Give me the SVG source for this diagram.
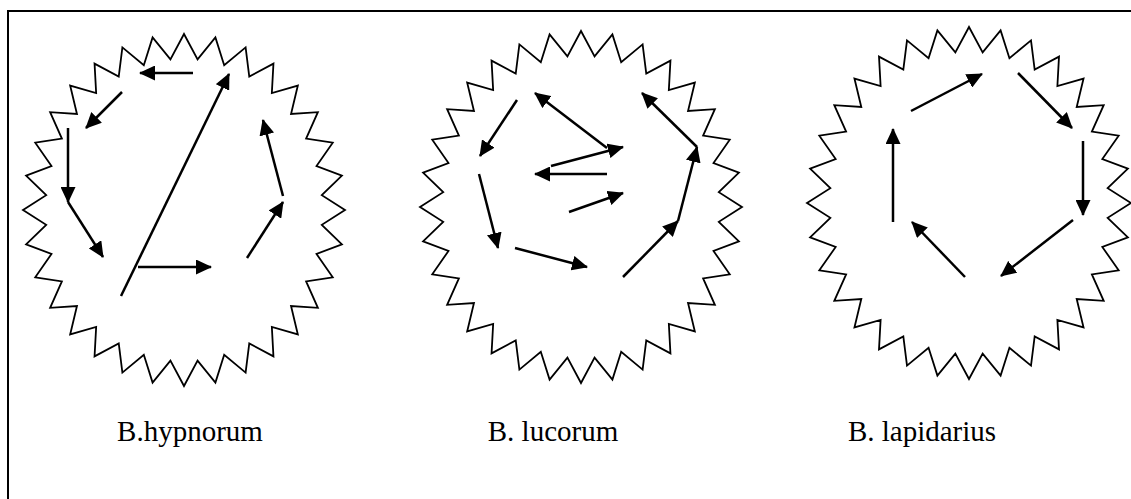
<svg xmlns="http://www.w3.org/2000/svg" xmlns:xlink="http://www.w3.org/1999/xlink" width="1131" height="499" viewBox="0 0 1131 499">
  <style>
    .frame { fill: none; stroke: #000; stroke-width: 2; }
    .star { fill: none; stroke: #000; stroke-width: 1.8; stroke-linejoin: miter; }
    .arr { fill: none; stroke: #000; stroke-width: 2.5; marker-end: url(#ah); }
    .lbl { font-family: "Liberation Serif", "Times New Roman", serif; font-size: 29px; fill: #000; text-anchor: middle; }
  </style>
  <defs>
    <marker id="ah" markerUnits="userSpaceOnUse" markerWidth="16" markerHeight="15" refX="15" refY="7.5" orient="auto" viewBox="0 0 16 15">
      <path d="M0,0 L16,7.5 L0,15 z" fill="#000"/>
    </marker>
    <polygon id="star" vector-effect="non-scaling-stroke" points="0,-100 8.43,-85.59 19.51,-98.08 24.96,-82.3 38.27,-92.39 40.54,-75.85 55.56,-83.15 54.56,-66.48 70.71,-70.71 66.48,-54.56 83.15,-55.56 75.85,-40.54 92.39,-38.27 82.3,-24.96 98.08,-19.51 85.59,-8.43 100,0 85.59,8.43 98.08,19.51 82.3,24.96 92.39,38.27 75.85,40.54 83.15,55.56 66.48,54.56 70.71,70.71 54.56,66.48 55.56,83.15 40.54,75.85 38.27,92.39 24.96,82.3 19.51,98.08 8.43,85.59 0,100 -8.43,85.59 -19.51,98.08 -24.96,82.3 -38.27,92.39 -40.54,75.85 -55.56,83.15 -54.56,66.48 -70.71,70.71 -66.48,54.56 -83.15,55.56 -75.85,40.54 -92.39,38.27 -82.3,24.96 -98.08,19.51 -85.59,8.43 -100,0 -85.59,-8.43 -98.08,-19.51 -82.3,-24.96 -92.39,-38.27 -75.85,-40.54 -83.15,-55.56 -66.48,-54.56 -70.71,-70.71 -54.56,-66.48 -55.56,-83.15 -40.54,-75.85 -38.27,-92.39 -24.96,-82.3 -19.51,-98.08 -8.43,-85.59"/>
  </defs>
  <rect x="0" y="0" width="1131" height="499" fill="#fff"/>
  <path class="frame" d="M8,520 V11 H1140"/>

  <g id="hypnorum">
    <use xlink:href="#star" class="star" transform="translate(184,210) scale(1.61,1.76)"/>
    <text class="lbl" x="190" y="441">B.hypnorum</text>
  </g>
  <g id="lucorum">
    <use xlink:href="#star" class="star" transform="translate(581,207) scale(1.61,1.76)"/>
    <text class="lbl" x="553" y="441">B. lucorum</text>
  </g>
  <g id="lapidarius">
    <use xlink:href="#star" class="star" transform="translate(969,203) scale(1.62,1.76)"/>
    <text class="lbl" x="922" y="441">B. lapidarius</text>
  </g>

  <g id="connectors">
    <!-- B.hypnorum -->
    <line class="arr" x1="193" y1="73" x2="140" y2="73"/>
    <line class="arr" x1="122" y1="92" x2="86" y2="128"/>
    <line class="arr" x1="68" y1="128" x2="68" y2="202"/>
    <line class="arr" x1="68" y1="202" x2="103" y2="257"/>
    <line class="arr" x1="121" y1="296" x2="229" y2="74"/>
    <line class="arr" x1="138" y1="267" x2="211" y2="267"/>
    <line class="arr" x1="247" y1="258" x2="283" y2="202"/>
    <line class="arr" x1="283" y1="196" x2="263" y2="120"/>
    <!-- B. lucorum -->
    <line class="arr" x1="517" y1="100" x2="480" y2="156"/>
    <line class="arr" x1="607" y1="148" x2="535" y2="93"/>
    <line class="arr" x1="551" y1="166" x2="623" y2="147"/>
    <line class="arr" x1="607" y1="174" x2="535" y2="174"/>
    <line class="arr" x1="569" y1="212" x2="623" y2="193"/>
    <line class="arr" x1="479" y1="174" x2="498" y2="248"/>
    <line class="arr" x1="515" y1="248" x2="587" y2="267"/>
    <line class="arr" x1="623" y1="277" x2="678" y2="221"/>
    <line class="arr" x1="678" y1="221" x2="697" y2="147"/>
    <line class="arr" x1="697" y1="147" x2="642" y2="93"/>
    <!-- B. lapidarius -->
    <line class="arr" x1="911" y1="111" x2="982" y2="74"/>
    <line class="arr" x1="1018" y1="73" x2="1072" y2="128"/>
    <line class="arr" x1="1083" y1="141" x2="1083" y2="215"/>
    <line class="arr" x1="1073" y1="220" x2="1001" y2="276"/>
    <line class="arr" x1="965" y1="277" x2="912" y2="222"/>
    <line class="arr" x1="893" y1="222" x2="893" y2="129"/>
  </g>
</svg>
